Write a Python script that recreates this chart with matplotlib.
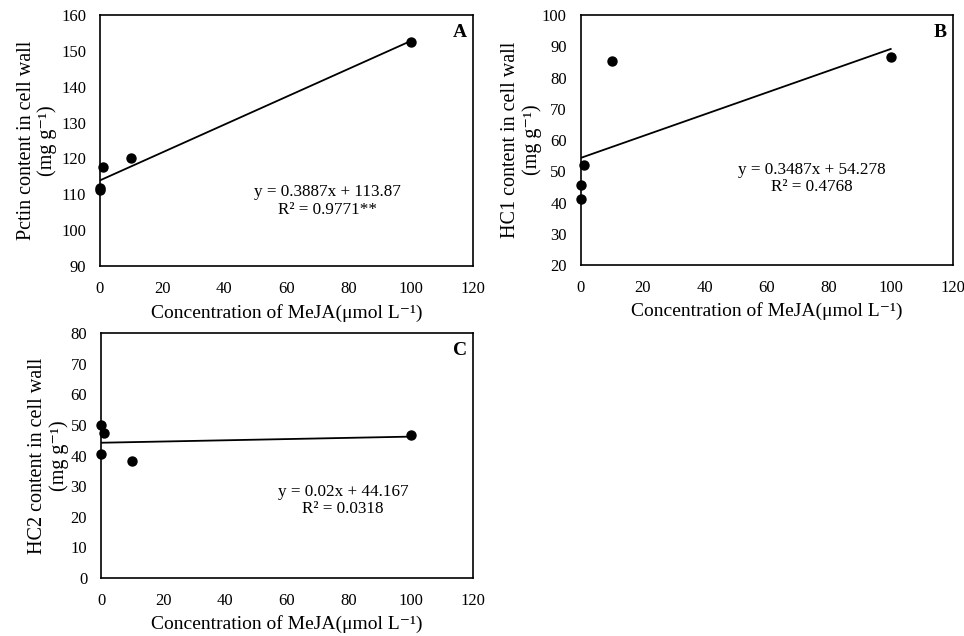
import numpy as np
import matplotlib
matplotlib.use("Agg")
import matplotlib.pyplot as plt

plt.rcParams["font.family"] = ["Liberation Serif", "DejaVu Serif"]

# MeJA concentrations (umol/L)
conc = [0, 0.1, 1, 10, 100]

# measured contents (mg/g)
pectin = [111.2, 111.8, 117.5, 120.0, 152.5]
hc1 = [41.0, 45.5, 52.0, 85.2, 86.5]
hc2 = [40.5, 50.0, 47.3, 38.3, 46.8]

# trendline coefficients (slope, intercept) and R2 as reported
fit_a = (0.3887, 113.87)
fit_b = (0.3487, 54.278)
fit_c = (0.02, 44.167)
eq_a = "y = 0.3887x + 113.87\nR² = 0.9771**"
eq_b = "y = 0.3487x + 54.278\nR² = 0.4768"
eq_c = "y = 0.02x + 44.167\nR² = 0.0318"

xlab = "Concentration of MeJA(μmol L⁻¹)"

panels = [
    # rect, y data, fit, eq, eq pos, letter, ylabel, ylim, ylabel x, xlabel y
    ([0.1037, 0.5818, 0.3869, 0.3947], pectin, fit_a, eq_a, (0.611, 0.26), "A",
     "Pctin content in cell wall", (90, 160), -0.114, -0.15),
    ([0.6024, 0.5833, 0.3859, 0.3930], hc1, fit_b, eq_b, (0.621, 0.346), "B",
     "HC1 content in cell wall", (20, 100), -0.104, -0.15),
    ([0.1048, 0.0912, 0.3859, 0.3852], hc2, fit_c, eq_c, (0.65, 0.316), "C",
     "HC2 content in cell wall", (0, 80), -0.085, -0.153),
]

fig = plt.figure(figsize=(9.64, 6.36), dpi=100)

for rect, ydata, fit, eq, eqpos, letter, ylab, ylim, ylx, xly in panels:
    ax = fig.add_axes(rect)
    xs = np.array([0, 100])
    ax.plot(xs, fit[0] * xs + fit[1], color="black", lw=1.3, zorder=2)
    ax.scatter(conc, ydata, s=42, color="black", zorder=3, clip_on=False)

    ax.set_xlim(0, 120)
    ax.set_ylim(*ylim)
    ax.set_xticks(range(0, 121, 20))
    ax.set_yticks(range(ylim[0], ylim[1] + 1, 10))
    ax.tick_params(length=0, labelsize=12)
    ax.tick_params(axis="x", pad=11)
    ax.tick_params(axis="y", pad=10)
    for s in ax.spines.values():
        s.set_linewidth(1.2)

    ax.set_xlabel(xlab, fontsize=14)
    ax.xaxis.set_label_coords(0.5, xly)
    ax.set_ylabel(ylab + "\n(mg g⁻¹)", fontsize=14.5, linespacing=1.15)
    ax.yaxis.set_label_coords(ylx, 0.5)

    ax.text(eqpos[0], eqpos[1], eq, transform=ax.transAxes, ha="center",
            va="center", fontsize=12.3, linespacing=1.15)
    ax.text(0.965, 0.93, letter, transform=ax.transAxes, ha="center",
            va="center", fontsize=14, fontweight="bold")

fig.savefig("out.png", dpi=100)
